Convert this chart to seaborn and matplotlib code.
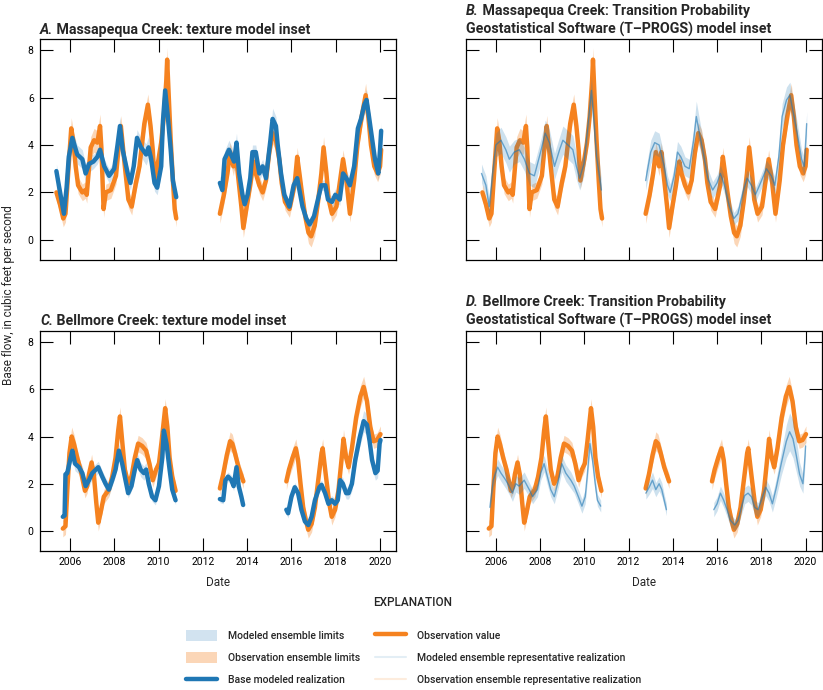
import numpy as np
import pandas as pd
import matplotlib
matplotlib.use("Agg")
import matplotlib.pyplot as plt
import seaborn as sns
from matplotlib.patches import Patch
from matplotlib.lines import Line2D

# ---------------- data ----------------
# Massapequa Creek observations (segments separated by data gaps)
mass_obs_t = [
    [2005.39, 2005.55, 2005.70, 2005.80, 2005.92, 2006.06, 2006.15, 2006.26, 2006.37, 2006.56,
     2006.70, 2006.76, 2006.94, 2007.09, 2007.24, 2007.36, 2007.42, 2007.52, 2007.62, 2007.85,
     2008.08, 2008.23, 2008.30, 2008.48, 2008.64, 2008.79, 2008.98, 2009.14, 2009.36, 2009.52,
     2009.64, 2009.74, 2009.82, 2010.00, 2010.12, 2010.24, 2010.35, 2010.39, 2010.45, 2010.55,
     2010.65, 2010.73, 2010.80],
    [2012.77, 2012.95, 2013.11, 2013.23, 2013.38, 2013.48, 2013.59, 2013.74, 2013.83, 2013.98,
     2014.14, 2014.29, 2014.39, 2014.55, 2014.70, 2014.85, 2015.00, 2015.15, 2015.30, 2015.45,
     2015.56, 2015.71, 2015.91, 2016.14, 2016.26, 2016.36, 2016.47, 2016.62, 2016.77, 2016.89,
     2017.05, 2017.20, 2017.35, 2017.45, 2017.58, 2017.68, 2017.83, 2018.03, 2018.18, 2018.33,
     2018.48, 2018.64, 2018.83, 2018.98, 2019.17, 2019.35, 2019.47, 2019.59, 2019.74, 2019.89,
     2020.00, 2020.05],
]
mass_obs_v = [
    [2.0, 1.5, 0.9, 1.1, 2.8, 4.7, 4.2, 3.1, 2.3, 2.0,
     2.1, 1.9, 3.9, 4.2, 4.1, 4.8, 3.9, 1.3, 2.0, 2.1,
     2.7, 4.2, 4.8, 3.1, 1.7, 1.4, 2.4, 3.1, 4.9, 5.7,
     4.8, 3.8, 2.5, 3.4, 4.1, 5.2, 6.7, 7.6, 6.3, 4.2,
     2.5, 1.3, 0.9],
    [1.1, 1.9, 2.8, 3.7, 3.1, 3.7, 2.7, 1.4, 0.5, 1.4,
     2.3, 3.3, 2.8, 2.3, 2.0, 2.5, 3.7, 4.5, 4.2, 3.4,
     2.4, 1.6, 1.3, 2.3, 3.5, 2.8, 2.0, 1.0, 0.3, 0.15,
     0.6, 1.6, 2.8, 3.9, 2.8, 1.7, 1.1, 1.4, 2.4, 3.4,
     2.5, 1.1, 2.5, 4.0, 5.2, 6.1, 5.2, 4.0, 3.1, 2.8,
     3.1, 3.8],
]
mass_obs_w = [
    [0.35, 0.35, 0.35, 0.35, 0.4, 0.45, 0.45, 0.4, 0.35, 0.35,
     0.35, 0.35, 0.45, 0.5, 0.5, 0.5, 0.45, 0.35, 0.35, 0.35,
     0.35, 0.4, 0.45, 0.4, 0.35, 0.35, 0.35, 0.4, 0.45, 0.45,
     0.45, 0.4, 0.35, 0.35, 0.4, 0.45, 0.5, 0.5, 0.5, 0.45,
     0.4, 0.35, 0.35],
    [0.4, 0.4, 0.4, 0.4, 0.4, 0.4, 0.4, 0.4, 0.4, 0.4,
     0.35, 0.35, 0.35, 0.35, 0.35, 0.35, 0.4, 0.45, 0.45, 0.4,
     0.35, 0.35, 0.35, 0.35, 0.4, 0.4, 0.35, 0.4, 0.45, 0.45,
     0.45, 0.4, 0.4, 0.45, 0.4, 0.35, 0.35, 0.35, 0.35, 0.4,
     0.35, 0.35, 0.35, 0.4, 0.45, 0.5, 0.45, 0.4, 0.35, 0.35,
     0.35, 0.35],
]

# Massapequa Creek, texture model: base modeled realization
mass_tex_t = [
    [2005.39, 2005.50, 2005.73, 2005.85, 2005.95, 2006.11, 2006.33, 2006.56, 2006.71, 2006.86,
     2007.06, 2007.24, 2007.36, 2007.55, 2007.77, 2008.00, 2008.15, 2008.26, 2008.38, 2008.61,
     2008.73, 2008.88, 2009.03, 2009.21, 2009.44, 2009.55, 2009.67, 2009.82, 2009.94, 2010.12,
     2010.20, 2010.30, 2010.42, 2010.55, 2010.65, 2010.80],
    [2012.77, 2012.88, 2012.98, 2013.18, 2013.41, 2013.52, 2013.64, 2013.79, 2013.89, 2014.02,
     2014.14, 2014.24, 2014.39, 2014.55, 2014.70, 2014.85, 2015.05, 2015.15, 2015.30, 2015.38,
     2015.53, 2015.68, 2015.91, 2016.10, 2016.26, 2016.36, 2016.50, 2016.67, 2016.82, 2017.02,
     2017.17, 2017.35, 2017.53, 2017.65, 2017.83, 2017.98, 2018.18, 2018.33, 2018.48, 2018.64,
     2018.83, 2019.00, 2019.14, 2019.29, 2019.39, 2019.50, 2019.62, 2019.77, 2019.92, 2020.00,
     2020.05],
]
mass_tex_v = [
    [2.9, 2.3, 1.1, 2.2, 3.5, 4.3, 3.6, 3.4, 2.8, 3.2,
     3.3, 3.5, 3.8, 3.1, 2.7, 3.0, 4.0, 4.8, 3.8, 2.8,
     2.4, 3.1, 4.3, 3.9, 3.6, 3.9, 3.4, 2.4, 2.2, 3.1,
     5.0, 6.3, 5.2, 3.8, 2.5, 1.8],
    [2.4, 2.1, 3.4, 3.8, 3.3, 4.1, 2.8, 1.9, 1.5, 1.9,
     2.6, 3.7, 3.7, 2.8, 3.1, 2.6, 4.2, 5.1, 4.8, 4.0,
     2.8, 1.9, 1.4, 2.3, 2.6, 2.1, 1.4, 0.9, 0.65, 1.0,
     1.6, 2.3, 2.3, 1.7, 1.6, 1.9, 1.7, 2.8, 2.6, 2.3,
     3.1, 4.7, 5.1, 5.7, 5.9, 5.2, 4.4, 3.4, 2.8, 3.8,
     4.6],
]
mass_tex_w = [
    [0.3, 0.3, 0.25, 0.3, 0.3, 0.35, 0.4, 0.4, 0.4, 0.35,
     0.3, 0.3, 0.3, 0.3, 0.3, 0.3, 0.35, 0.4, 0.35, 0.3,
     0.3, 0.3, 0.35, 0.4, 0.45, 0.45, 0.45, 0.35, 0.3, 0.3,
     0.35, 0.4, 0.35, 0.3, 0.3, 0.25],
    [0.3, 0.3, 0.35, 0.4, 0.4, 0.4, 0.35, 0.3, 0.25, 0.25,
     0.25, 0.3, 0.3, 0.3, 0.3, 0.3, 0.35, 0.45, 0.4, 0.35,
     0.3, 0.25, 0.2, 0.2, 0.2, 0.2, 0.2, 0.2, 0.2, 0.2,
     0.2, 0.2, 0.25, 0.25, 0.25, 0.25, 0.25, 0.3, 0.3, 0.3,
     0.3, 0.35, 0.35, 0.4, 0.45, 0.4, 0.35, 0.3, 0.3, 0.3,
     0.35],
]

# Massapequa Creek, T-PROGS model: modeled ensemble representative realization
mass_tp_t = [
    [2005.35, 2005.55, 2005.70, 2005.85, 2006.00, 2006.23, 2006.45, 2006.61, 2006.83, 2007.06,
     2007.29, 2007.52, 2007.74, 2008.05, 2008.23, 2008.42, 2008.65, 2008.88, 2009.03, 2009.26,
     2009.48, 2009.64, 2009.79, 2009.98, 2010.17, 2010.32, 2010.44, 2010.55, 2010.70, 2010.77],
    [2012.77, 2013.00, 2013.18, 2013.38, 2013.61, 2013.76, 2013.88, 2014.06, 2014.21, 2014.36,
     2014.55, 2014.74, 2014.94, 2015.06, 2015.20, 2015.35, 2015.58, 2015.80, 2016.00, 2016.15,
     2016.33, 2016.56, 2016.76, 2016.94, 2017.17, 2017.36, 2017.55, 2017.73, 2017.92, 2018.23,
     2018.45, 2018.61, 2018.79, 2018.94, 2019.14, 2019.29, 2019.48, 2019.64, 2019.82, 2019.94,
     2020.05],
]
mass_tp_v = [
    [2.8, 2.3, 1.4, 2.8, 4.0, 4.2, 3.8, 3.4, 3.7, 3.8,
     3.4, 2.8, 2.7, 3.8, 4.5, 4.1, 3.1, 3.8, 4.2, 4.0,
     3.8, 3.1, 2.6, 3.2, 4.9, 6.3, 4.9, 3.5, 2.6, 2.1],
    [2.5, 3.7, 4.1, 4.0, 3.1, 2.3, 2.0, 2.7, 3.7, 3.5,
     3.1, 3.0, 4.2, 5.2, 4.5, 3.8, 2.6, 2.1, 2.4, 2.8,
     2.3, 1.4, 0.9, 1.1, 2.0, 2.6, 2.3, 1.9, 2.3, 3.0,
     2.7, 2.3, 3.5, 5.2, 5.9, 6.1, 5.2, 4.4, 3.4, 3.1,
     4.9],
]
mass_tp_w = [
    [0.4, 0.4, 0.35, 0.4, 0.5, 0.55, 0.55, 0.55, 0.5, 0.5,
     0.5, 0.5, 0.5, 0.5, 0.55, 0.55, 0.55, 0.55, 0.6, 0.6,
     0.6, 0.55, 0.5, 0.5, 0.55, 0.6, 0.55, 0.55, 0.5, 0.45],
    [0.4, 0.5, 0.5, 0.5, 0.45, 0.4, 0.35, 0.4, 0.45, 0.45,
     0.4, 0.4, 0.5, 0.65, 0.6, 0.5, 0.4, 0.35, 0.35, 0.35,
     0.35, 0.3, 0.25, 0.3, 0.35, 0.35, 0.35, 0.3, 0.3, 0.35,
     0.35, 0.35, 0.45, 0.55, 0.55, 0.55, 0.5, 0.45, 0.4, 0.4,
     0.5],
]

# Bellmore Creek observations
bell_obs_t = [
    [2005.68, 2005.80, 2005.88, 2005.98, 2006.08, 2006.18, 2006.33, 2006.48, 2006.68, 2006.78,
     2006.86, 2006.98, 2007.08, 2007.19, 2007.28, 2007.38, 2007.53, 2007.76, 2007.91, 2008.06,
     2008.18, 2008.26, 2008.36, 2008.48, 2008.63, 2008.78, 2008.93, 2009.08, 2009.26, 2009.44,
     2009.59, 2009.74, 2009.89, 2010.02, 2010.14, 2010.30, 2010.40, 2010.50, 2010.62, 2010.77],
    [2012.77, 2012.92, 2013.08, 2013.23, 2013.33, 2013.45, 2013.61, 2013.83],
    [2015.77, 2015.89, 2016.05, 2016.20, 2016.30, 2016.41, 2016.53, 2016.65, 2016.76, 2016.91,
     2017.06, 2017.21, 2017.36, 2017.41, 2017.56, 2017.71, 2017.82, 2017.97, 2018.12, 2018.27,
     2018.35, 2018.47, 2018.58, 2018.73, 2018.92, 2019.11, 2019.26, 2019.41, 2019.56, 2019.71,
     2019.86, 2020.02],
]
bell_obs_v = [
    [0.1, 0.2, 1.7, 3.3, 4.0, 3.7, 3.1, 2.6, 1.7, 1.9,
     2.4, 2.9, 2.4, 1.2, 0.35, 0.75, 1.45, 1.75, 2.3, 3.1,
     4.25, 4.85, 3.8, 2.6, 2.0, 2.3, 3.1, 3.7, 3.6, 3.4,
     2.85, 2.15, 2.6, 2.85, 3.8, 5.2, 4.4, 3.1, 2.3, 1.7],
    [1.8, 2.4, 3.2, 3.8, 3.7, 3.3, 2.7, 2.1],
    [2.1, 2.6, 3.1, 3.5, 3.0, 2.0, 1.0, 0.45, 0.05, 0.3,
     1.0, 2.15, 3.3, 3.5, 2.3, 1.15, 0.6, 0.9, 1.7, 3.1,
     3.9, 3.1, 2.7, 3.5, 4.8, 5.7, 6.1, 5.5, 4.4, 3.8,
     3.85, 4.1],
]
bell_obs_w = [
    [0.35, 0.35, 0.35, 0.4, 0.4, 0.4, 0.35, 0.3, 0.3, 0.3,
     0.3, 0.35, 0.3, 0.3, 0.35, 0.35, 0.3, 0.3, 0.3, 0.35,
     0.4, 0.4, 0.35, 0.3, 0.3, 0.3, 0.35, 0.35, 0.35, 0.35,
     0.3, 0.3, 0.3, 0.3, 0.35, 0.4, 0.35, 0.3, 0.3, 0.3],
    [0.3, 0.3, 0.35, 0.4, 0.4, 0.35, 0.3, 0.3],
    [0.35, 0.35, 0.4, 0.4, 0.35, 0.3, 0.3, 0.35, 0.35, 0.35,
     0.3, 0.3, 0.35, 0.4, 0.35, 0.3, 0.35, 0.3, 0.3, 0.35,
     0.4, 0.35, 0.3, 0.35, 0.4, 0.45, 0.45, 0.4, 0.35, 0.3,
     0.3, 0.35],
]

# Bellmore Creek, texture model: base modeled realization
bell_tex_t = [
    [2005.68, 2005.76, 2005.80, 2005.88, 2006.03, 2006.11, 2006.23, 2006.41, 2006.56, 2006.71,
     2006.86, 2007.01, 2007.28, 2007.46, 2007.61, 2007.76, 2007.91, 2008.06, 2008.21, 2008.36,
     2008.51, 2008.63, 2008.78, 2008.93, 2009.04, 2009.19, 2009.34, 2009.44, 2009.56, 2009.71,
     2009.86, 2010.02, 2010.17, 2010.24, 2010.36, 2010.50, 2010.62, 2010.77],
    [2012.77, 2012.92, 2013.02, 2013.14, 2013.29, 2013.39, 2013.52, 2013.62, 2013.74, 2013.82],
    [2015.77, 2015.85, 2016.00, 2016.15, 2016.30, 2016.45, 2016.61, 2016.76, 2016.91, 2017.06,
     2017.26, 2017.36, 2017.52, 2017.67, 2017.82, 2017.97, 2018.09, 2018.20, 2018.32, 2018.47,
     2018.58, 2018.73, 2018.88, 2019.08, 2019.26, 2019.41, 2019.53, 2019.64, 2019.79, 2019.89,
     2019.98, 2020.02],
]
bell_tex_v = [
    [0.6, 0.65, 2.4, 2.45, 3.1, 3.4, 2.85, 2.7, 2.45, 1.9,
     2.15, 2.45, 2.7, 2.3, 2.0, 1.75, 2.15, 2.6, 3.4, 2.85,
     2.15, 1.6, 1.9, 2.6, 3.0, 2.6, 2.45, 2.6, 2.0, 1.45,
     1.3, 1.9, 3.1, 4.25, 3.7, 2.6, 1.75, 1.3],
    [1.35, 1.3, 2.15, 2.3, 2.15, 1.9, 2.7, 1.9, 1.45, 1.1],
    [0.9, 0.75, 1.45, 1.85, 1.6, 0.9, 0.4, 0.25, 0.6, 1.3,
     1.85, 1.95, 1.6, 1.15, 1.3, 1.15, 1.3, 2.15, 2.0, 1.6,
     1.6, 2.0, 3.0, 3.95, 4.65, 4.5, 3.8, 3.0, 2.45, 2.55,
     3.7, 3.85],
]
bell_tex_w = [
    [0.2, 0.2, 0.25, 0.25, 0.3, 0.3, 0.3, 0.3, 0.3, 0.25,
     0.25, 0.25, 0.25, 0.25, 0.25, 0.25, 0.25, 0.25, 0.3, 0.3,
     0.25, 0.2, 0.2, 0.25, 0.3, 0.3, 0.3, 0.3, 0.25, 0.2,
     0.2, 0.2, 0.25, 0.3, 0.3, 0.25, 0.2, 0.2],
    [0.15, 0.15, 0.2, 0.2, 0.2, 0.2, 0.2, 0.2, 0.15, 0.15],
    [0.2, 0.2, 0.2, 0.2, 0.2, 0.2, 0.2, 0.2, 0.2, 0.2,
     0.2, 0.2, 0.2, 0.2, 0.2, 0.2, 0.2, 0.25, 0.25, 0.25,
     0.25, 0.3, 0.35, 0.4, 0.45, 0.45, 0.4, 0.35, 0.3, 0.3,
     0.3, 0.3],
]

# Bellmore Creek, T-PROGS model: modeled ensemble representative realization
bell_tp_t = [
    [2005.73, 2005.88, 2006.08, 2006.23, 2006.45, 2006.60, 2006.75, 2006.90, 2007.05, 2007.28,
     2007.51, 2007.66, 2007.88, 2008.03, 2008.18, 2008.33, 2008.48, 2008.64, 2008.83, 2008.98,
     2009.16, 2009.39, 2009.54, 2009.73, 2009.89, 2010.04, 2010.14, 2010.25, 2010.37, 2010.49,
     2010.59, 2010.74],
    [2012.78, 2012.93, 2013.08, 2013.23, 2013.38, 2013.50, 2013.61, 2013.71],
    [2015.85, 2016.00, 2016.15, 2016.30, 2016.45, 2016.60, 2016.80, 2016.95, 2017.10, 2017.25,
     2017.40, 2017.55, 2017.70, 2017.85, 2018.00, 2018.20, 2018.35, 2018.50, 2018.68, 2018.90,
     2019.13, 2019.28, 2019.43, 2019.58, 2019.73, 2019.88, 2019.95, 2020.00],
]
bell_tp_v = [
    [1.0, 2.15, 2.7, 2.45, 2.15, 1.9, 1.6, 2.0, 1.9, 2.15,
     1.75, 1.45, 1.75, 2.45, 2.85, 2.3, 1.75, 1.45, 2.15, 2.85,
     2.45, 2.15, 1.9, 1.45, 1.05, 1.45, 2.45, 3.7, 3.0, 2.0,
     1.3, 1.05],
    [1.6, 1.85, 2.15, 1.75, 2.0, 1.75, 1.3, 0.9],
    [0.9, 1.15, 1.6, 1.3, 0.9, 0.45, 0.25, 0.45, 1.0, 1.5,
     1.6, 1.45, 1.0, 0.9, 1.3, 1.85, 1.6, 1.15, 1.85, 2.85,
     3.8, 4.2, 3.9, 3.2, 2.4, 2.0, 2.85, 3.6],
]
bell_tp_w = [
    [0.25, 0.3, 0.35, 0.35, 0.35, 0.35, 0.35, 0.35, 0.35, 0.35,
     0.3, 0.3, 0.3, 0.3, 0.35, 0.35, 0.3, 0.3, 0.3, 0.35,
     0.35, 0.35, 0.3, 0.3, 0.3, 0.3, 0.3, 0.35, 0.3, 0.3,
     0.25, 0.25],
    [0.25, 0.3, 0.35, 0.3, 0.3, 0.3, 0.25, 0.25],
    [0.3, 0.3, 0.3, 0.3, 0.3, 0.25, 0.25, 0.25, 0.3, 0.35,
     0.35, 0.35, 0.3, 0.3, 0.3, 0.35, 0.35, 0.35, 0.4, 0.5,
     0.7, 0.8, 0.8, 0.7, 0.5, 0.4, 0.4, 0.4],
]

year_ticks = [2006, 2008, 2010, 2012, 2014, 2016, 2018, 2020]
flow_ticks = [0, 2, 4, 6, 8]

legend_labels_left = ["Modeled ensemble limits", "Observation ensemble limits",
                      "Base modeled realization"]
legend_labels_right = ["Observation value", "Modeled ensemble representative realization",
                       "Observation ensemble representative realization"]

# ---------------- styling ----------------
BLUE = "#1f77b4"
ORANGE = "#f5821f"

sns.set_style("white")
plt.rcParams["font.family"] = ["Roboto", "DejaVu Sans"]

W, H = 823, 690
fig = plt.figure(figsize=(W / 100, H / 100), dpi=100)


def rect(l, t, r, b):
    return [l / W, 1 - b / H, (r - l) / W, (b - t) / H]


ax_a = fig.add_axes(rect(40, 39, 396, 260))
ax_b = fig.add_axes(rect(466, 39, 821.5, 260))
ax_c = fig.add_axes(rect(40, 331, 396, 551))
ax_d = fig.add_axes(rect(466, 331, 821.5, 551))


def frame(ts, vs, ws):
    rows = []
    for k, (t, v, w) in enumerate(zip(ts, vs, ws)):
        assert len(t) == len(v) == len(w), (len(t), len(v), len(w))
        for ti, vi, wi in zip(t, v, w):
            rows.append((k, ti, vi, vi - wi, vi + wi))
    return pd.DataFrame(rows, columns=["seg", "t", "v", "lo", "hi"])


def band(ax, df, color, alpha, z):
    for _, g in df.groupby("seg"):
        ax.fill_between(g["t"], g["lo"], g["hi"], color=color, alpha=alpha, lw=0, zorder=z)


def line(ax, df, color, lw, alpha, z):
    sns.lineplot(data=df, x="t", y="v", units="seg", estimator=None, sort=False,
                 color=color, lw=lw, alpha=alpha, ax=ax, legend=False, zorder=z)


mass_obs = frame(mass_obs_t, mass_obs_v, mass_obs_w)
mass_tex = frame(mass_tex_t, mass_tex_v, mass_tex_w)
mass_tp = frame(mass_tp_t, mass_tp_v, mass_tp_w)
bell_obs = frame(bell_obs_t, bell_obs_v, bell_obs_w)
bell_tex = frame(bell_tex_t, bell_tex_v, bell_tex_w)
bell_tp = frame(bell_tp_t, bell_tp_v, bell_tp_w)

# texture panels: base realization on top
for ax, obs, mod in [(ax_a, mass_obs, mass_tex), (ax_c, bell_obs, bell_tex)]:
    band(ax, mod, BLUE, 0.2, 1)
    band(ax, obs, ORANGE, 0.32, 2)
    line(ax, obs, ORANGE, 3.2, 1.0, 3)
    line(ax, mod, BLUE, 3.2, 1.0, 4)

# T-PROGS panels: modeled ensemble drawn translucent over observations
for ax, obs, mod in [(ax_b, mass_obs, mass_tp), (ax_d, bell_obs, bell_tp)]:
    band(ax, obs, ORANGE, 0.32, 1)
    line(ax, obs, ORANGE, 3.2, 1.0, 2)
    band(ax, mod, BLUE, 0.22, 3)
    line(ax, mod, BLUE, 1.0, 0.6, 4)

for ax in (ax_a, ax_b, ax_c, ax_d):
    ax.set_xlim(2004.65, 2020.72)
    ax.set_ylim(-0.85, 8.47)
    ax.set_xticks(year_ticks)
    ax.set_xticklabels([str(y) for y in year_ticks])
    ax.set_yticks(flow_ticks)
    ax.set_yticklabels([str(v) for v in flow_ticks])
    ax.set_xlabel("")
    ax.set_ylabel("")
    ax.tick_params(direction="in", length=9.4, width=0.8, top=True, right=True,
                   bottom=True, left=True, labelsize=7.5, pad=4.5, colors="black")
    for s in ax.spines.values():
        s.set_visible(True)
        s.set_color("black")
        s.set_linewidth(0.9)

ax_a.tick_params(labelbottom=False)
ax_b.tick_params(labelbottom=False, labelleft=False)
ax_d.tick_params(labelleft=False)

TITLE_FS = 10.2


def title(x, y, letter, text):
    t1 = fig.text(x / W, 1 - y / H, letter + ".", fontsize=TITLE_FS, fontweight="bold",
                  style="italic", va="baseline", ha="left")
    fig.add_artist(plt.Annotation(" " + text, xy=(1, 0), xycoords=t1, fontsize=TITLE_FS,
                                  fontweight="bold", va="bottom", ha="left",
                                  annotation_clip=False))


def plain(x, y, text, **kw):
    fig.text(x / W, 1 - y / H, text, **kw)


title(40, 34, "A", "Massapequa Creek: texture model inset")
title(466, 15, "B", "Massapequa Creek: Transition Probability")
plain(466, 34, "Geostatistical Software (T\u2013PROGS) model inset", fontsize=TITLE_FS,
      fontweight="bold", va="baseline", ha="left")
title(40, 325, "C", "Bellmore Creek: texture model inset")
title(466, 306, "D", "Bellmore Creek: Transition Probability")
plain(466, 325, "Geostatistical Software (T\u2013PROGS) model inset", fontsize=TITLE_FS,
      fontweight="bold", va="baseline", ha="left")

plain(9, 295, "Base flow, in cubic feet per second", rotation=90, va="center",
      ha="center", fontsize=8.5)
plain(218, 583, "Date", va="center", ha="center", fontsize=8.5)
plain(644, 583, "Date", va="center", ha="center", fontsize=8.5)
plain(413, 602, "EXPLANATION", va="center", ha="center", fontsize=8.5, fontweight="medium")

h_left = [Patch(facecolor=BLUE, alpha=0.2, edgecolor="none"),
          Patch(facecolor=ORANGE, alpha=0.32, edgecolor="none"),
          Line2D([], [], color=BLUE, lw=3.2)]
h_right = [Line2D([], [], color=ORANGE, lw=3.2),
           Line2D([], [], color=BLUE, lw=1.5, alpha=0.12),
           Line2D([], [], color=ORANGE, lw=1.5, alpha=0.15)]
common = dict(loc="upper left", frameon=False, handlelength=3.0,
              handleheight=1.2, handletextpad=1.0, labelspacing=1.1,
              borderpad=0, borderaxespad=0,
              prop={"family": ["Roboto", "DejaVu Sans"], "size": 7.5, "weight": "medium"})
fig.legend(h_left, legend_labels_left, bbox_to_anchor=(186 / W, 1 - 630 / H), **common)
fig.legend(h_right, legend_labels_right, bbox_to_anchor=(375 / W, 1 - 630 / H), **common)

fig.savefig("out.png", dpi=100)
